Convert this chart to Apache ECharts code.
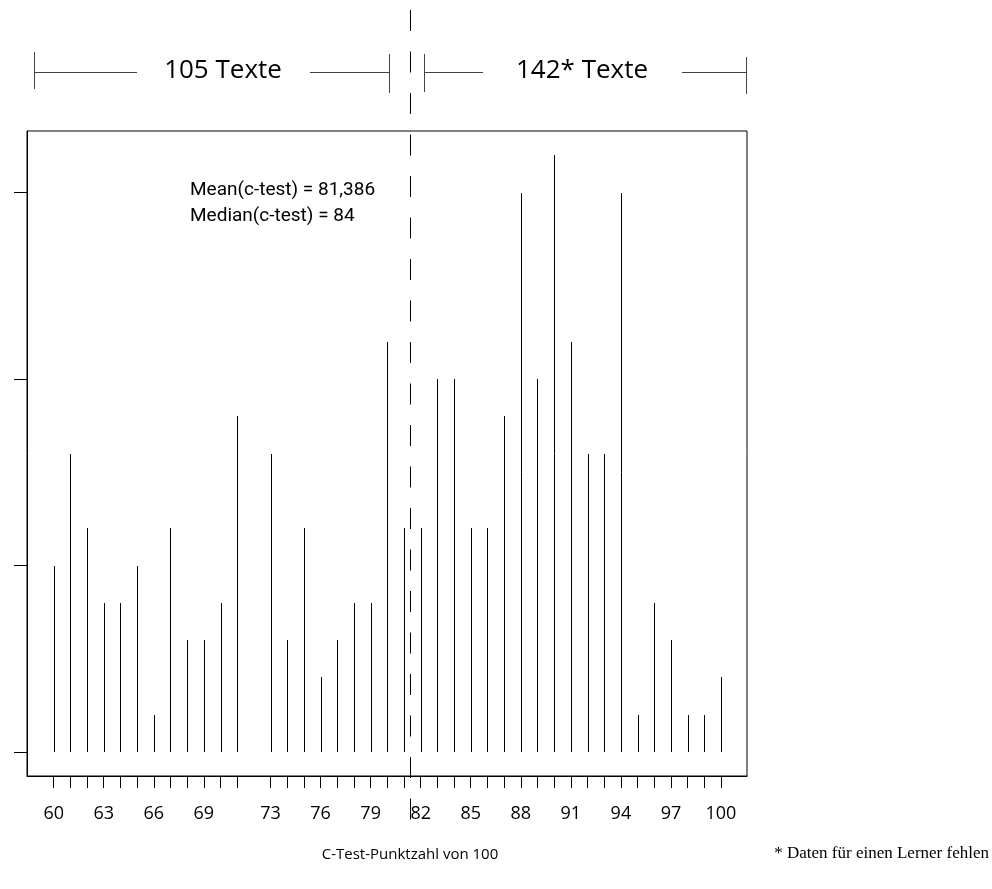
<!DOCTYPE html>
<html>
<head>
<meta charset="utf-8">
<script src="https://cdn.jsdelivr.net/npm/echarts@6/dist/echarts.min.js"></script>
<style>
html,body{margin:0;padding:0;background:#fff;}
#main{width:992px;height:889px;}
</style>
</head>
<body>
<div id="main"></div>
<script>
// ---- data ----
const scores = [60,61,62,63,64,65,66,67,68,69,70,71,72,73,74,75,76,77,78,79,80,81,82,83,84,85,86,87,88,89,90,91,92,93,94,95,96,97,98,99,100];
const counts = [5,8,6,4,4,5,1,6,3,3,4,9,0,8,3,6,2,3,4,4,11,6,6,10,10,6,6,9,15,10,16,11,8,8,15,1,4,3,1,1,2];
const xTickLabels = [60,63,66,69,73,76,79,82,85,88,91,94,97,100];
const yTicks = [0,5,10,15];
const meanScore = 81.386;
const medianScore = 84;
const groupLabels = ['105 Texte', '142* Texte'];
const statLines = ['Mean(c-test) = 81,386', 'Median(c-test) = 84'];
const xTitle = 'C-Test-Punktzahl von 100';
const footnote = '* Daten für einen Lerner fehlen';

const tickPositions = scores.filter((s, i) => counts[i] > 0);

const chart = echarts.init(document.getElementById('main'), null, {renderer: 'canvas'});

const option = {
  animation: false,
  backgroundColor: '#fff',
  grid: {
    left: 27, right: 245, top: 131, bottom: 113,
    show: true, borderColor: '#000', borderWidth: 1, backgroundColor: 'transparent'
  },
  xAxis: {
    type: 'value',
    min: 58.4, max: 101.56,
    splitLine: {show: false},
    axisLine: {show: true, onZero: false, lineStyle: {color: '#000', width: 1}},
    axisTick: {show: true, inside: false, length: 12, customValues: tickPositions, lineStyle: {color: '#000', width: 1}},
    axisLabel: {show: true, customValues: xTickLabels, margin: 29, fontSize: 18, fontFamily: 'Open Sans', color: '#000'}
  },
  yAxis: {
    type: 'value',
    min: -0.644, max: 16.65,
    splitLine: {show: false},
    axisLine: {show: true, onZero: false, lineStyle: {color: '#000', width: 1}},
    axisTick: {show: true, inside: false, length: 13, customValues: yTicks, lineStyle: {color: '#000', width: 1}},
    axisLabel: {show: false}
  },
  series: [{
    type: 'custom',
    data: scores.map((s, i) => [s, counts[i]]),
    renderItem: function (params, api) {
      const x = api.value(0), v = api.value(1);
      if (!v) return null;
      const p0 = api.coord([x, 0]);
      const p1 = api.coord([x, v]);
      const px = Math.round(p0[0]) + 0.5;
      return {
        type: 'line',
        shape: {x1: px, y1: Math.round(p0[1]), x2: px, y2: Math.round(p1[1])},
        style: {stroke: '#000', lineWidth: 1}
      };
    }
  }]
};
chart.setOption(option);

const mx = Math.round(chart.convertToPixel({xAxisIndex: 0}, meanScore)) + 0.5;
const bracketColor = '#444';
function vline(x, y1, y2, color, dash) {
  return {type: 'line', z: 100, shape: {x1: x, y1: y1, x2: x, y2: y2},
    style: {stroke: color, lineWidth: 1, lineDash: dash || null}};
}
function hline(x1, x2, y, color) {
  return {type: 'line', z: 100, shape: {x1: x1, y1: y, x2: x2, y2: y},
    style: {stroke: color, lineWidth: 1}};
}
chart.setOption({
  graphic: [
    // mean dashed line
    vline(mx, 10, 830, '#000', [21, 20.5]),
    // left bracket
    vline(34.5, 52, 89, bracketColor),
    hline(34.5, 137, 72.5, bracketColor),
    hline(310, 389.5, 72.5, bracketColor),
    vline(389.5, 54, 93, bracketColor),
    {type: 'text', z: 100, x: 223, y: 71, style: {text: groupLabels[0], fontSize: 26, fontFamily: 'Open Sans', fill: '#000', align: 'center', verticalAlign: 'middle'}},
    // right bracket
    vline(424.5, 54, 92, bracketColor),
    hline(424.5, 483, 72.5, bracketColor),
    hline(682, 746.5, 72.5, bracketColor),
    vline(746.5, 57, 94, bracketColor),
    {type: 'text', z: 100, x: 582, y: 71, style: {text: groupLabels[1], fontSize: 26, fontFamily: 'Open Sans', fill: '#000', align: 'center', verticalAlign: 'middle'}},
    // stats
    {type: 'text', z: 100, x: 190, y: 190, style: {text: statLines[0], fontSize: 19, fontFamily: 'Roboto', fill: '#000', align: 'left', verticalAlign: 'middle'}},
    {type: 'text', z: 100, x: 190, y: 216, style: {text: statLines[1], fontSize: 19, fontFamily: 'Roboto', fill: '#000', align: 'left', verticalAlign: 'middle'}},
    // x title
    {type: 'text', z: 100, x: 410, y: 855, style: {text: xTitle, fontSize: 15, fontFamily: 'Open Sans', fill: '#000', align: 'center', verticalAlign: 'middle'}},
    // footnote
    {type: 'text', z: 100, x: 989, y: 854, style: {text: footnote, fontSize: 17, fontFamily: 'Liberation Serif', fill: '#000', align: 'right', verticalAlign: 'middle'}}
  ]
});
</script>
</body>
</html>
